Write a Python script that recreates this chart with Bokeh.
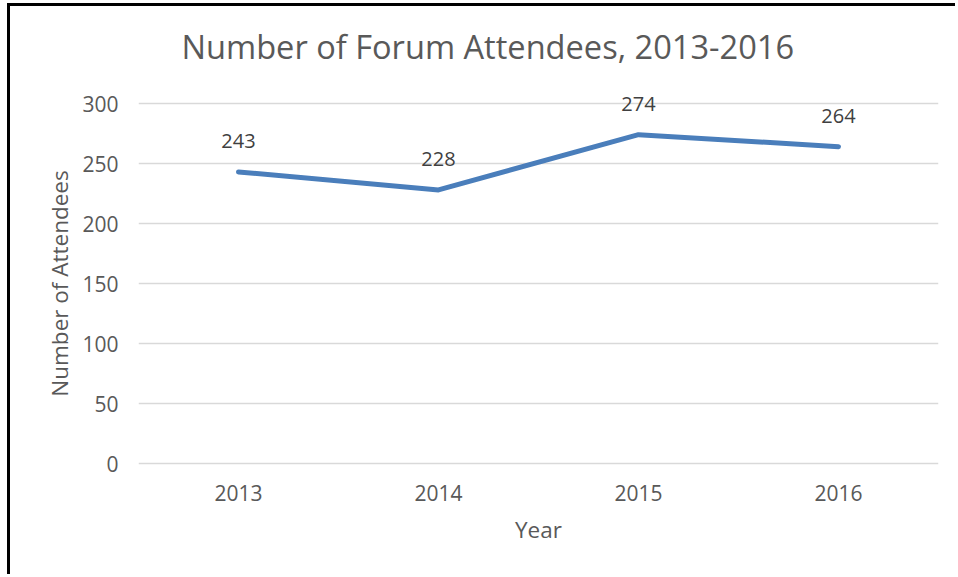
from bokeh.plotting import figure
from bokeh.models import ColumnDataSource, LabelSet, Range1d, FactorRange
from bokeh.core.properties import value
from bokeh.embed import file_html
from bokeh.resources import INLINE

# ---- data ----
years = ["2013", "2014", "2015", "2016"]
attendees = [243, 228, 274, 264]
y_ticks = [0, 50, 100, 150, 200, 250, 300]
title_text = "Number of Forum Attendees, 2013-2016"
x_label = "Year"
y_label = "Number of Attendees"

FONT = "Open Sans"
GREY = "#595959"

src = ColumnDataSource(dict(year=years, n=attendees, lab=[str(v) for v in attendees]))

p = figure(width=948, height=571,
           x_range=FactorRange(factors=years, range_padding=0),
           y_range=Range1d(-20, 320),
           output_backend="svg", toolbar_location=None,
           min_border_left=128, min_border_right=20,
           min_border_top=73, min_border_bottom=90)
p.styles = {"border-top": "3px solid black", "border-left": "3px solid black",
            "margin-top": "3px", "margin-left": "7px"}

p.title.text = title_text
p.title.align = "left"
p.title.offset = 43
p.title.text_font = FONT
p.title.text_font_size = "32.6px"
p.title.text_font_style = "normal"
p.title.text_color = GREY
p.title.standoff = 22

p.outline_line_color = None
p.background_fill_color = "white"
p.border_fill_color = "white"

p.xgrid.grid_line_color = None
p.ygrid.grid_line_color = "#d9d9d9"
p.ygrid.grid_line_width = 1.5

p.yaxis.ticker = y_ticks
for ax in (p.xaxis[0], p.yaxis[0]):
    ax.axis_line_color = None
    ax.major_tick_line_color = None
    ax.minor_tick_line_color = None
    ax.major_label_text_font = FONT
    ax.major_label_text_font_size = "21px"
    ax.major_label_text_color = GREY
    ax.axis_label_text_font = FONT
    ax.axis_label_text_font_size = "22.5px"
    ax.axis_label_text_font_style = "normal"
    ax.axis_label_text_color = GREY

p.yaxis.major_label_standoff = 14
p.yaxis.axis_label = y_label
p.yaxis.axis_label_standoff = 4
p.xaxis.major_label_standoff = -9
p.xaxis.axis_label = x_label
p.xaxis.axis_label_standoff = 10

p.line("year", "n", source=src, line_color="#4a7ebb", line_width=5, line_join="round", line_cap="round")

labels = LabelSet(x="year", y="n", text="lab", source=src, y_offset=31,
                  text_align="center", text_baseline="middle",
                  text_font=value(FONT), text_font_size="20px", text_color="#404040")
p.add_layout(labels)

open("out.html", "w").write(file_html(p, INLINE))
